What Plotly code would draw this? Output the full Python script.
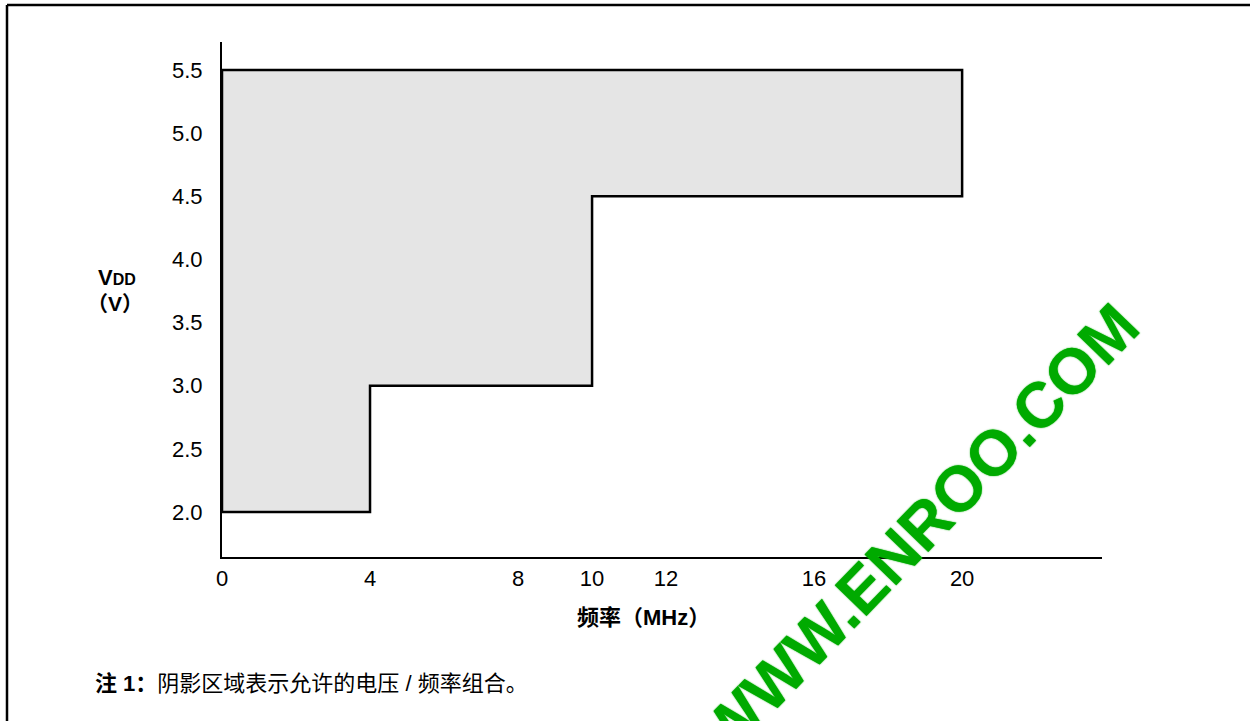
import plotly.graph_objects as go

# ---- data ----
freq_mhz = [0, 4, 4, 10, 10, 20, 20, 0, 0]
vdd_v = [2.0, 2.0, 3.0, 3.0, 4.5, 4.5, 5.5, 5.5, 2.0]
x_tick_vals = [0, 4, 8, 10, 12, 16, 20]
x_tick_text = ["0", "4", "8", "10", "12", "16", "20"]
y_tick_vals = [2.0, 2.5, 3.0, 3.5, 4.0, 4.5, 5.0, 5.5]
y_tick_text = ["2.0", "2.5", "3.0", "3.5", "4.0", "4.5", "5.0", "5.5"]

W, H = 1250, 721
L, R, T, B = 222, 1102, 42, 557  # plot area in pixels

def px(x):
    return (x - L) / (R - L)

def py(y):
    return (B - y) / (B - T)

FONT = "Arial, Liberation Sans, Noto Sans CJK SC, sans-serif"

fig = go.Figure()
fig.add_trace(go.Scatter(
    x=freq_mhz, y=vdd_v, mode="lines", fill="toself",
    fillcolor="#E5E5E5", line=dict(color="black", width=2.5),
    hoverinfo="skip", showlegend=False,
))

fig.update_layout(
    width=W, height=H,
    margin=dict(l=L, r=W - R, t=T, b=H - B),
    paper_bgcolor="white", plot_bgcolor="white",
    font=dict(family=FONT, size=22, color="black"),
    xaxis=dict(
        range=[0, 23.78], showgrid=False, zeroline=False,
        showline=True, linecolor="black", linewidth=2,
        tickmode="array", tickvals=x_tick_vals, ticktext=x_tick_text,
        ticks="outside", ticklen=1, tickcolor="rgba(0,0,0,0)",
        tickfont=dict(size=22, family=FONT),
    ),
    yaxis=dict(
        range=[1.644, 5.722], showgrid=False, zeroline=False,
        showline=True, linecolor="black", linewidth=2,
        tickmode="array", tickvals=y_tick_vals, ticktext=y_tick_text,
        ticks="outside", ticklen=13, tickcolor="rgba(0,0,0,0)",
        tickfont=dict(size=22, family=FONT),
    ),
    shapes=[
        dict(type="line", xref="paper", yref="paper",
             x0=px(7), y0=py(5), x1=px(1252), y1=py(5),
             line=dict(color="black", width=2.5)),
        dict(type="line", xref="paper", yref="paper",
             x0=px(7), y0=py(5), x1=px(7), y1=py(725),
             line=dict(color="black", width=2.5)),
    ],
    annotations=[
        dict(text="<b>频率（MHz）</b>", xref="paper", yref="paper",
             x=px(643), y=py(617), showarrow=False,
             xanchor="center", yanchor="middle",
             font=dict(size=22, family=FONT)),
        dict(text="<b>V<span style='font-size:16px'>DD</span></b>",
             xref="paper", yref="paper", x=px(117), y=py(277),
             showarrow=False, xanchor="center", yanchor="middle",
             font=dict(size=22, family=FONT)),
        dict(text="<b>（V）</b>", xref="paper", yref="paper",
             x=px(115), y=py(303), showarrow=False,
             xanchor="center", yanchor="middle",
             font=dict(size=21, family=FONT)),
        dict(text="<b>注 1：</b>阴影区域表示允许的电压 / 频率组合。",
             xref="paper", yref="paper", x=px(93), y=py(683),
             showarrow=False, xanchor="left", yanchor="middle",
             font=dict(size=22, family=FONT)),
        dict(text="<b>WWW.ENROO.COM</b>", xref="paper", yref="paper",
             x=px(919), y=py(530), showarrow=False,
             xanchor="center", yanchor="middle", textangle=-46,
             font=dict(size=64, family=FONT, color="rgb(0,170,0)",
                       shadow="0 0 1.5px rgb(0,170,0)")),
    ],
)

fig.write_html("out.html", config={"displayModeBar": False},
               post_script="document.body.style.margin='0';")
